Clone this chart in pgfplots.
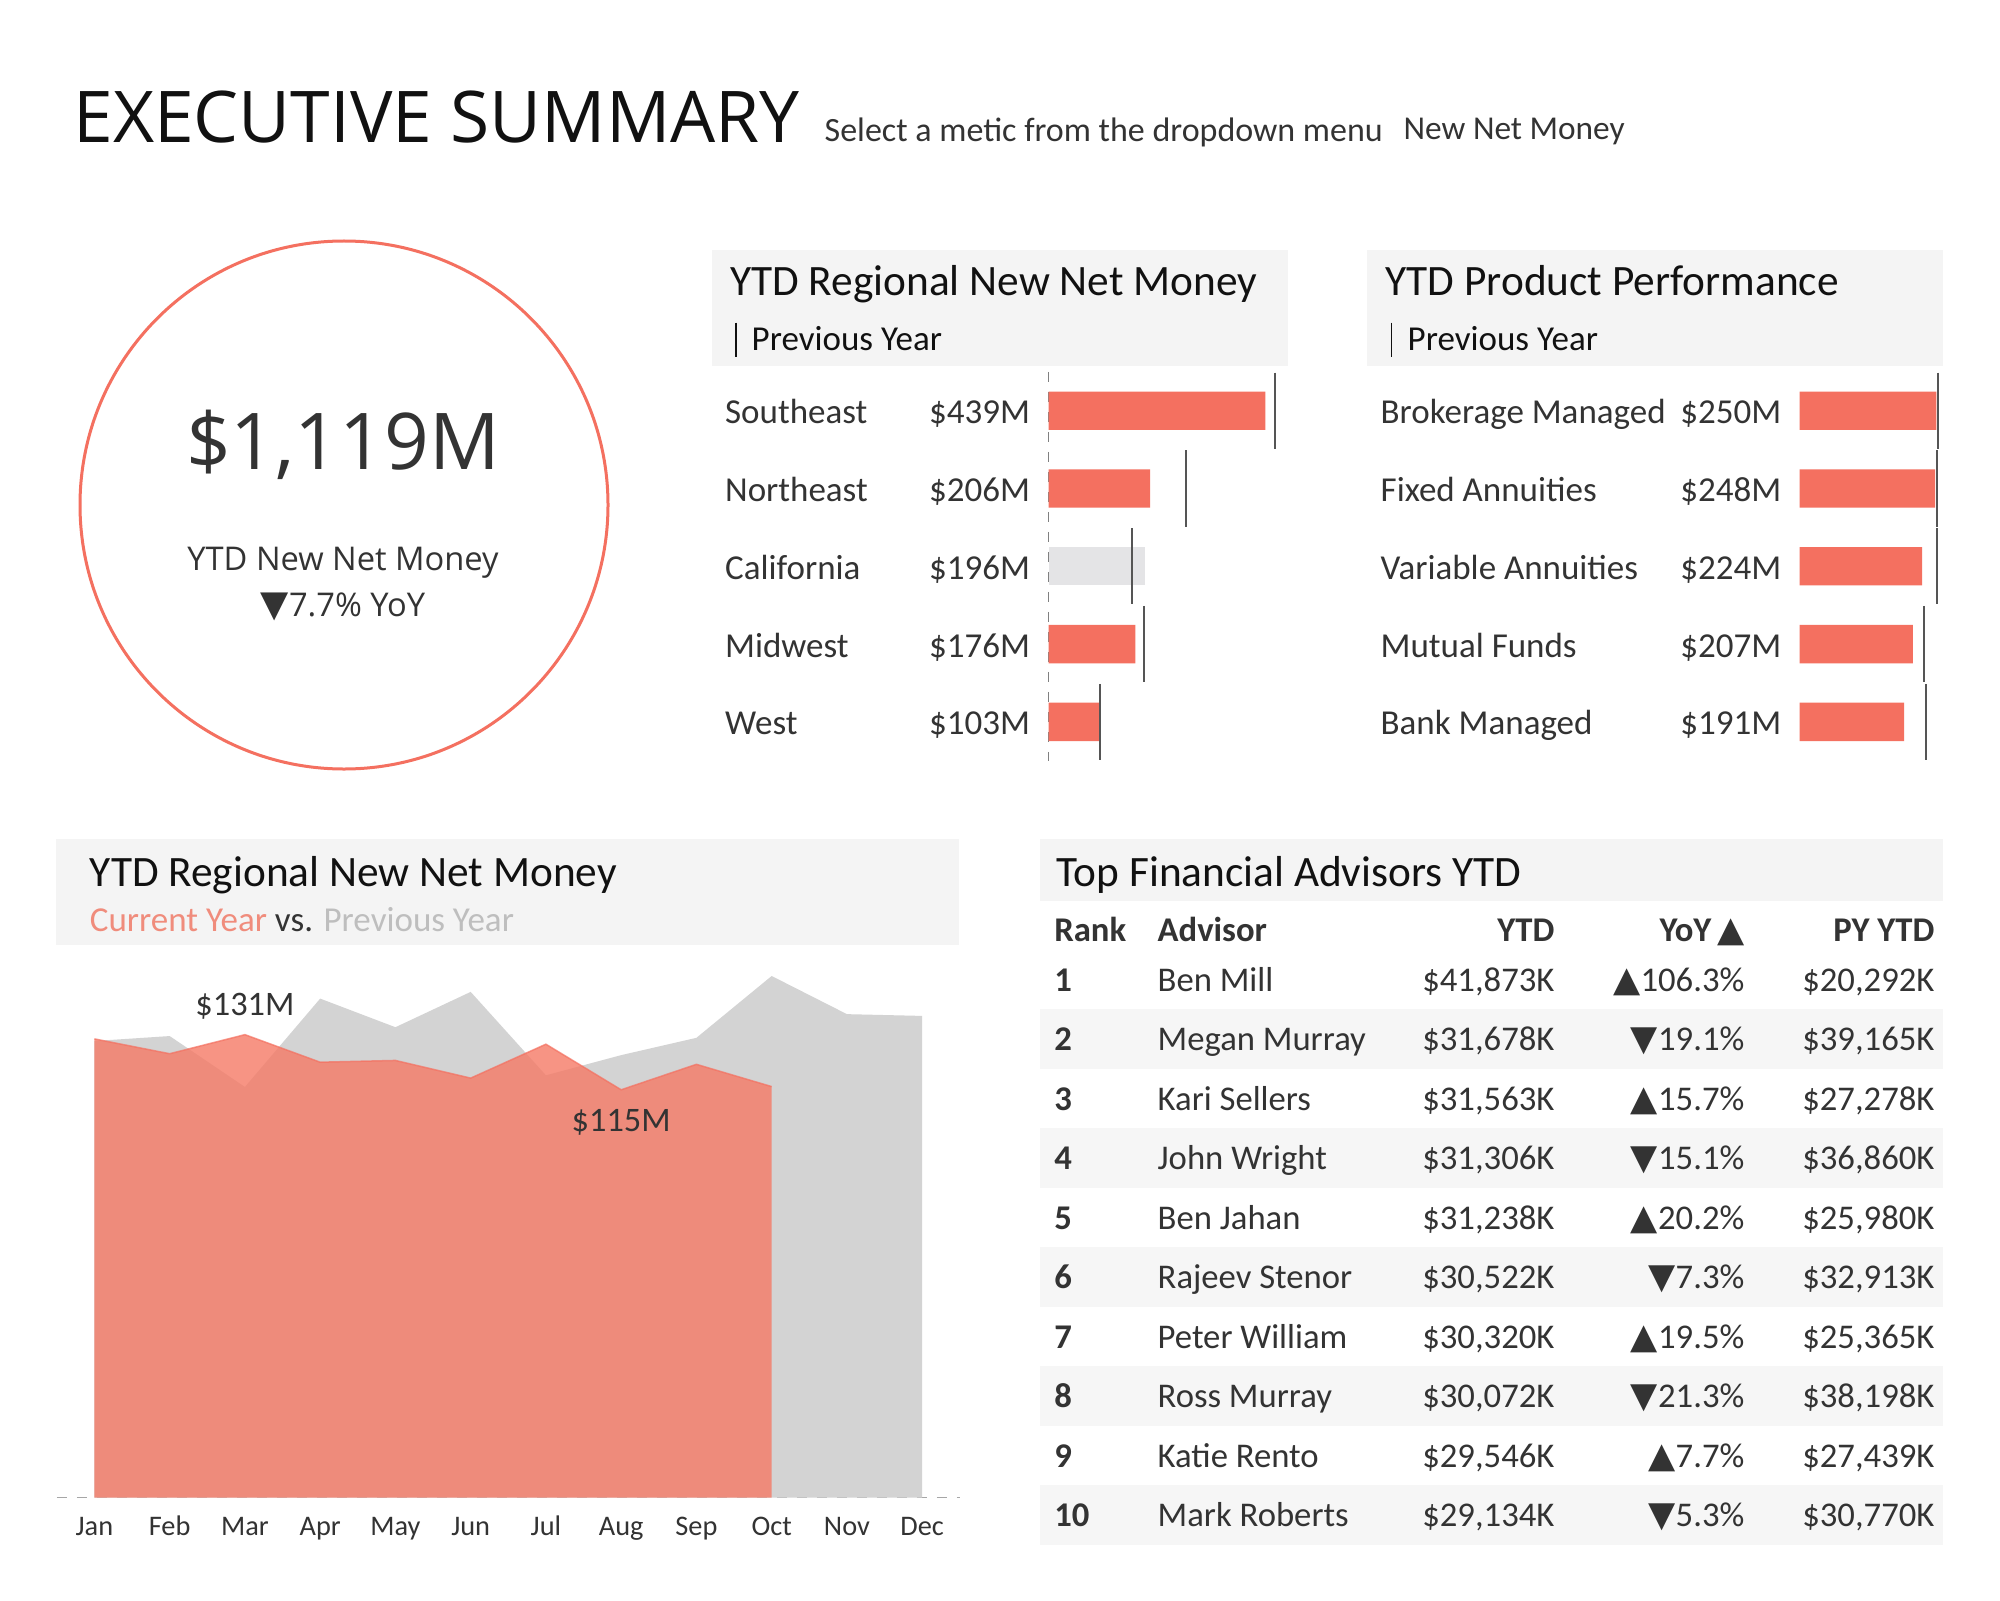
\documentclass[border=0pt]{standalone}
\usepackage{fontspec}
\setmainfont{Carlito}
\newfontfamily\os{Open Sans}
\newfontfamily\sym{DejaVu Sans}
\usepackage{pgfplots}
\pgfplotsset{compat=1.18}
\definecolor{coral}{RGB}{244,112,96}
\definecolor{areared}{RGB}{245,122,102}
\definecolor{pgray}{RGB}{211,211,211}
\definecolor{hdr}{RGB}{244,244,244}
\definecolor{band}{RGB}{246,246,246}
\definecolor{txt}{RGB}{51,51,51}
\definecolor{ttl}{RGB}{17,17,17}
\definecolor{lightbar}{RGB}{228,228,230}
\definecolor{refline}{RGB}{85,85,85}
\definecolor{cysub}{RGB}{240,140,124}
\definecolor{pysub}{RGB}{190,190,190}
\newcommand\fs[1]{\fontsize{#1}{#1}\selectfont}
\newcommand\up{{\sym\fs{10.6pt}▲}}
\newcommand\dn{{\sym\fs{10.6pt}▼}}
\newcommand\tf{\fs{10.4pt}}
\begin{document}
\begin{tikzpicture}[x=0.3pt,y=-0.3pt,t/.style={inner sep=0pt,text=txt}]
\path[use as bounding box, fill=white] (0,0) rectangle (2000,1600);

% ---- Title
\node[t,anchor=base west,font=\os\fs{21.4pt},text=ttl] at (72.7,142.9) {EXECUTIVE SUMMARY};
\node[t,anchor=base west,font=\fs{10.2pt}] at (824,142) {Select a metic from the dropdown menu};
\node[t,anchor=base west,font=\fs{10pt}] at (1403,140) {New Net Money};

% ---- KPI circle
\draw[coral,line width=0.9pt] (344,505) circle [radius=264];
\node[t,anchor=base,font=\os\fs{23.5pt}] at (343,469.4) {\$1,119M};
\node[t,anchor=base,font=\os\fs{9.8pt}] at (343,570) {YTD New Net Money};
\node[t,anchor=base,font=\os\fs{9.8pt}] at (343,616) {{\sym\fs{11pt}▼}7.7\% YoY};

% ---- Regional panel header
\fill[hdr] (711.7,250) rectangle (1288.3,366);
\node[t,anchor=base west,font=\fs{13pt},text=ttl] at (729.6,296) {YTD Regional New Net Money};
\draw[ttl,line width=0.45pt] (736,322.7) -- (736,357);
\node[t,anchor=base west,font=\fs{10.5pt},text=ttl] at (751,350.8) {Previous Year};

% ---- Product panel header
\fill[hdr] (1367.3,250) rectangle (1942.6,366);
\node[t,anchor=base west,font=\fs{13pt},text=ttl] at (1385,296) {YTD Product Performance};
\draw[ttl,line width=0.45pt] (1391.6,322.7) -- (1391.6,357);
\node[t,anchor=base west,font=\fs{10.5pt},text=ttl] at (1407,350.8) {Previous Year};

% ---- Regional labels
\foreach \n/\v [count=\i from 0] in {Southeast/439,Northeast/206,California/196,Midwest/176,West/103}{
  \node[t,anchor=base west,font=\fs{10.5pt}] at (724.5,{423.7+77.8*\i}) {\n};
  \node[t,anchor=base east,font=\fs{10.5pt}] at (1030.6,{423.7+77.8*\i}) {\$\v M};
}
% ---- Product labels
\foreach \n/\v [count=\i from 0] in {Brokerage Managed/250,Fixed Annuities/248,Variable Annuities/224,Mutual Funds/207,Bank Managed/191}{
  \node[t,anchor=base west,font=\fs{10.5pt}] at (1380,{423.7+77.8*\i}) {\n};
  \node[t,anchor=base east,font=\fs{10.5pt}] at (1782,{423.7+77.8*\i}) {\$\v M};
}

% ---- Regional bars
\coordinate (A1) at (1048.5,371.8);
\begin{axis}[at={(A1)},anchor=north west,scale only axis,
  width=71.1pt,height=116.7pt,xmin=0,xmax=480,ymin=-0.5,ymax=4.5,
  y dir=reverse,hide axis,clip=false]
\addplot[gray,dashed,line width=0.35pt] coordinates {(0,-0.5) (0,4.5)};
\addplot[xbar,bar width=11.5pt,bar shift=0pt,fill=coral,draw=none]
  coordinates {(439,0) (206,1) (176,3) (103,4)};
\addplot[xbar,bar width=11.5pt,bar shift=0pt,fill=lightbar,draw=none]
  coordinates {(196,2)};
\addplot[refline,line width=0.6pt] coordinates {(459,-0.49) (459,0.49)};
\addplot[refline,line width=0.6pt] coordinates {(278,0.51) (278,1.49)};
\addplot[refline,line width=0.6pt] coordinates {(169,1.51) (169,2.49)};
\addplot[refline,line width=0.6pt] coordinates {(193,2.51) (193,3.49)};
\addplot[refline,line width=0.6pt] coordinates {(104,3.51) (104,4.49)};
\end{axis}

% ---- Product bars
\coordinate (A2) at (1799.7,371.8);
\begin{axis}[at={(A2)},anchor=north west,scale only axis,
  width=42.6pt,height=116.7pt,xmin=0,xmax=260,ymin=-0.5,ymax=4.5,
  y dir=reverse,hide axis,clip=false]
\addplot[xbar,bar width=11.5pt,bar shift=0pt,fill=coral,draw=none]
  coordinates {(250,0) (248,1) (224,2) (207,3) (191,4)};
\addplot[refline,line width=0.6pt] coordinates {(254,-0.49) (254,0.49)};
\addplot[refline,line width=0.6pt] coordinates {(251,0.51) (251,1.49)};
\addplot[refline,line width=0.6pt] coordinates {(251,1.51) (251,2.49)};
\addplot[refline,line width=0.6pt] coordinates {(228,2.51) (228,3.49)};
\addplot[refline,line width=0.6pt] coordinates {(232,3.51) (232,4.49)};
\end{axis}

% ---- Area panel header
\fill[hdr] (56.1,839.3) rectangle (959.2,945.2);
\node[t,anchor=base west,font=\fs{13pt},text=ttl] at (89.3,886.5) {YTD Regional New Net Money};
\node[t,anchor=base west,font=\fs{10.5pt}] at (89.3,931.1) {\textcolor{cysub}{Current Year} vs. \textcolor{pysub}{Previous Year}};

% ---- Area chart
\coordinate (A3) at (56.8,967.5);
\begin{axis}[at={(A3)},anchor=north west,scale only axis,
  width=270.9pt,height=159pt,xmin=-0.5,xmax=11.5,ymin=0,ymax=150,
  axis line style={draw=none},ytick=\empty,xtick={0,...,11},
  xticklabels={Jan,Feb,Mar,Apr,May,Jun,Jul,Aug,Sep,Oct,Nov,Dec},
  major tick length=0pt,tick style={draw=none},
  xticklabel style={font=\fs{8.5pt},text=txt,anchor=base,yshift=-11.4pt,inner sep=0pt},
  clip=false]
\addplot[gray!70,dashed,line width=0.35pt] coordinates {(-0.5,0) (11.5,0)};
\addplot[fill=pgray,draw=none] coordinates {
 (0,129.2) (1,130.6) (2,116.2) (3,141.2) (4,133.1) (5,143.1)
 (6,119.5) (7,125.2) (8,130.1) (9,147.6) (10,136.8) (11,136.3)} \closedcycle;
\addplot[fill=areared,fill opacity=0.8,draw=none] coordinates {
 (0,129.8) (1,125.6) (2,131.0) (3,123.2) (4,123.7) (5,118.7)
 (6,128.3) (7,115.4) (8,122.6) (9,116.3)} \closedcycle;
\addplot[coral,line width=0.45pt,opacity=0.7] coordinates {
 (0,129.8) (1,125.6) (2,131.0) (3,123.2) (4,123.7) (5,118.7)
 (6,128.3) (7,115.4) (8,122.6) (9,116.3)};
\node[inner sep=0pt,text=txt,font=\fs{10.3pt},yshift=8.4pt] at (axis cs:2,131) {\$131M};
\node[inner sep=0pt,text=txt,font=\fs{10.3pt},yshift=-9.9pt] at (axis cs:7,115.4) {\$115M};
\end{axis}

% ---- Table
\fill[hdr] (1039.5,839.3) rectangle (1942.6,900.5);
\node[t,anchor=base west,font=\fs{13pt},text=ttl] at (1056,886.5) {Top Financial Advisors YTD};
\foreach \yb in {1009.35,1128.35,1247.35,1366.35,1485.35}{
  \fill[band] (1039.5,\yb) rectangle (1942.6,\yb+59.5);
}
\node[t,anchor=base west,font=\tf\bfseries] at (1053.6,941.3) {Rank};
\node[t,anchor=base west,font=\tf\bfseries] at (1157,941.3) {Advisor};
\node[t,anchor=base east,font=\tf\bfseries] at (1555,941.3) {YTD};
\node[t,anchor=base east,font=\tf\bfseries] at (1745,941.3) {YoY\,\up};
\node[t,anchor=base east,font=\tf\bfseries] at (1935,941.3) {PY YTD};
\newcommand\trow[6]{%
  \node[t,anchor=base west,font=\tf\bfseries] at (1053.6,#1) {#2};
  \node[t,anchor=base west,font=\tf] at (1157,#1) {#3};
  \node[t,anchor=base east,font=\tf] at (1555,#1) {#4};
  \node[t,anchor=base east,font=\tf] at (1745,#1) {#5};
  \node[t,anchor=base east,font=\tf] at (1935,#1) {#6};}
\trow{991}{1}{Ben Mill}{\$41,873K}{\up106.3\%}{\$20,292K}
\trow{1050.5}{2}{Megan Murray}{\$31,678K}{\dn19.1\%}{\$39,165K}
\trow{1110}{3}{Kari Sellers}{\$31,563K}{\up15.7\%}{\$27,278K}
\trow{1169.5}{4}{John Wright}{\$31,306K}{\dn15.1\%}{\$36,860K}
\trow{1229}{5}{Ben Jahan}{\$31,238K}{\up20.2\%}{\$25,980K}
\trow{1288.5}{6}{Rajeev Stenor}{\$30,522K}{\dn7.3\%}{\$32,913K}
\trow{1348}{7}{Peter William}{\$30,320K}{\up19.5\%}{\$25,365K}
\trow{1407.5}{8}{Ross Murray}{\$30,072K}{\dn21.3\%}{\$38,198K}
\trow{1467}{9}{Katie Rento}{\$29,546K}{\up7.7\%}{\$27,439K}
\trow{1526.5}{10}{Mark Roberts}{\$29,134K}{\dn5.3\%}{\$30,770K}
\end{tikzpicture}
\end{document}
